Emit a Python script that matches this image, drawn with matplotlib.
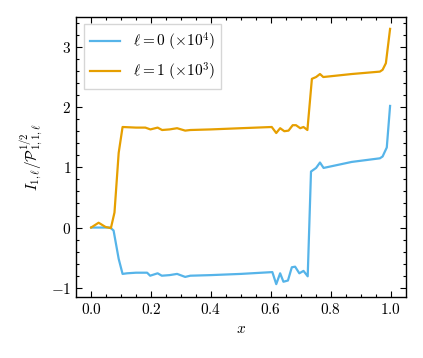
import numpy as np
import matplotlib
matplotlib.use("Agg")
import matplotlib.pyplot as plt

# values
x0 = [0.0, 0.025, 0.05, 0.064, 0.075, 0.092, 0.105, 0.12, 0.15, 0.187, 0.197, 0.222,
      0.236, 0.262, 0.287, 0.314, 0.331, 0.4, 0.5, 0.605, 0.618, 0.631, 0.642, 0.657,
      0.670, 0.681, 0.695, 0.709, 0.723, 0.734, 0.751, 0.764, 0.776, 0.87, 0.964,
      0.973, 0.987, 0.998]
y0 = [0.0, 0.0, 0.0, 0.0, -0.05, -0.52, -0.77, -0.76, -0.75, -0.75, -0.80, -0.76,
      -0.80, -0.79, -0.77, -0.82, -0.80, -0.79, -0.77, -0.74, -0.94, -0.76, -0.90, -0.88,
      -0.66, -0.65, -0.76, -0.72, -0.81, 0.93, 0.99, 1.08, 0.99, 1.09, 1.15,
      1.18, 1.33, 2.02]

x1 = [0.0, 0.025, 0.048, 0.066, 0.078, 0.092, 0.105, 0.15, 0.181, 0.198, 0.222, 0.237,
      0.262, 0.287, 0.314, 0.331, 0.4, 0.5, 0.603, 0.618, 0.631, 0.645, 0.659, 0.673,
      0.684, 0.698, 0.709, 0.722, 0.737, 0.751, 0.764, 0.775, 0.87, 0.964, 0.973,
      0.984, 0.998]
y1 = [0.0, 0.08, 0.01, -0.01, 0.25, 1.24, 1.67, 1.66, 1.66, 1.63, 1.66, 1.62,
      1.63, 1.65, 1.61, 1.62, 1.63, 1.65, 1.67, 1.57, 1.65, 1.60, 1.61, 1.70,
      1.70, 1.65, 1.67, 1.62, 2.47, 2.50, 2.55, 2.50, 2.55, 2.59, 2.62,
      2.73, 3.30]

labels = [r"$\ell=0\ (\times10^4)$", r"$\ell=1\ (\times10^3)$"]

plt.rcParams["font.family"] = "serif"
plt.rcParams["font.serif"] = ["cmr10"]
plt.rcParams["mathtext.fontset"] = "cm"
plt.rcParams["axes.formatter.use_mathtext"] = True
plt.rcParams["font.size"] = 11

fig = plt.figure(figsize=(4.23, 3.58), dpi=100)
ax = fig.add_axes([0.180, 0.171, 0.779, 0.782])

ax.plot(x0, y0, color="#56B4E9", lw=1.6, label=labels[0])
ax.plot(x1, y1, color="#E69F00", lw=1.6, label=labels[1])

ax.set_xlim(-0.05, 1.05)
ax.set_ylim(-1.15, 3.5)
ax.set_xticks(np.arange(0, 1.01, 0.2))
ax.set_xticks(np.arange(0, 1.01, 0.05), minor=True)
ax.set_yticks([-1, 0, 1, 2, 3])
ax.set_yticks(np.arange(-1, 3.41, 0.2), minor=True)
ax.tick_params(which="both", direction="in", top=True, right=True, width=0.8)
ax.tick_params(which="major", length=4.5)
ax.tick_params(which="minor", length=2.5)
for s in ax.spines.values():
    s.set_linewidth(1.0)

ax.set_xlabel(r"$x$")
ax.set_ylabel(r"$I_{1,\ell}/\mathcal{P}_{1,1,\ell}^{1/2}$")
ax.legend(loc="upper left", fancybox=False, edgecolor="0.8", fontsize=11)

fig.savefig("out.png", dpi=100)
